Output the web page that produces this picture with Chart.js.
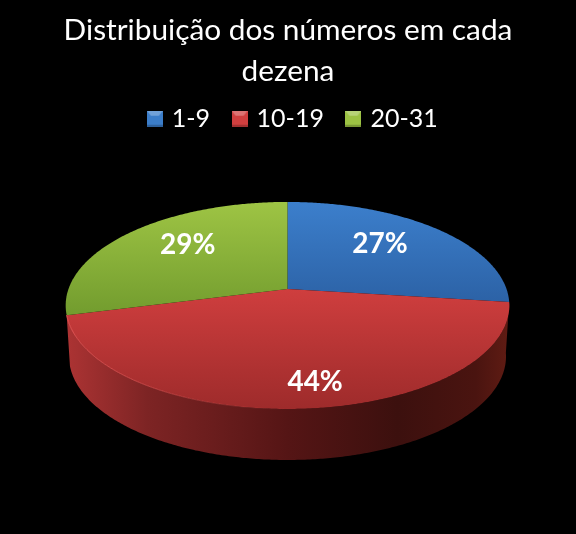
<!DOCTYPE html>
<html><head><meta charset="utf-8">
<style>html,body{margin:0;padding:0;background:#000}canvas{display:block}</style>
<script src="https://cdn.jsdelivr.net/npm/chart.js@4"></script>
</head><body><canvas id="c" width="576" height="534"></canvas>
<script>
const categories = ['1-9', '10-19', '20-31'];
const shares = [27, 44, 29];
const titleLines = ['Distribuição dos números em cada', 'dezena'];
const legendColors = ['#3b7dc9', '#d03f3f', '#9cc243'];

// face gradients per slice: [top colour, bottom colour]
const faceShades = [['#3c7fcc', '#2c62a6'], ['#cf3e3e', '#9e2b2b'], ['#9ec444', '#729c2e']];
const sideStops = [[0, '#ab3333'], [0.18, '#7d2424'], [0.5, '#551515'], [0.75, '#3c100e'], [0.93, '#4a1410'], [1, '#5e1b13']];

// perspective of the tilted disc
const view = { cx: 287.5, cy: 289, a: 219, b: 100.9, k: 0.159, depth: 51, shrink: 0.985 };
// where each percentage label sits, relative to the disc (rx, ry in view units)
const labelAt = [[0.455, 0.485], [0.11, -0.8], [-0.49, 0.47]];

function project(theta, r, down) {
  const X = r * Math.sin(theta), Y = r * Math.cos(theta), w = 1 + view.k * Y;
  const s = down ? view.shrink : 1;
  return [view.cx + s * view.a * X / w, view.cy - view.b * Y / w + (down ? view.depth : 0)];
}
function planar(x, y) {
  const w = 1 + view.k * y;
  return [view.cx + view.a * x / w, view.cy - view.b * y / w];
}
function rimPoints(t0, t1, down) {
  const n = Math.max(4, Math.ceil((t1 - t0) / 0.01)), pts = [];
  for (let i = 0; i <= n; i++) pts.push(project(t0 + (t1 - t0) * i / n, 1, down));
  return pts;
}
function trace(ctx, pts) {
  pts.forEach((p, i) => i ? ctx.lineTo(p[0], p[1]) : ctx.moveTo(p[0], p[1]));
}

const disc3d = {
  id: 'disc3d',
  afterLayout(chart) { chart.legend.left += 6; chart.legend.right += 6; chart.legend.top -= 11; chart.legend.bottom -= 11; },
  beforeDatasetsDraw(chart) {
    const ctx = chart.ctx, arcs = chart.getDatasetMeta(0).data;
    const spans = arcs.map(a => [a.startAngle + Math.PI / 2, a.endAngle + Math.PI / 2]);
    ctx.save();
    // side wall of the slices that face the viewer
    spans.forEach(([t0, t1]) => {
      const mid = (t0 + t1) / 2;
      if (mid <= Math.PI / 2 || mid >= 3 * Math.PI / 2) return;
      const top = rimPoints(t0, t1, false), bot = rimPoints(t0, t1, true).reverse();
      const g = ctx.createLinearGradient(view.cx - view.a, 0, view.cx + view.a, 0);
      sideStops.forEach(s => g.addColorStop(s[0], s[1]));
      ctx.beginPath(); trace(ctx, top.concat(bot)); ctx.closePath();
      ctx.fillStyle = g; ctx.fill();
    });
    // top faces
    spans.forEach(([t0, t1], i) => {
      const pts = [[view.cx, view.cy]].concat(rimPoints(t0, t1, false));
      const ys = pts.map(p => p[1]);
      const g = ctx.createLinearGradient(0, Math.min(...ys), 0, Math.max(...ys));
      g.addColorStop(0, faceShades[i][0]); g.addColorStop(1, faceShades[i][1]);
      ctx.beginPath(); trace(ctx, pts); ctx.closePath();
      ctx.fillStyle = g; ctx.fill();
    });
    // lit rim on the left of the front slice
    spans.forEach(([t0, t1]) => {
      const mid = (t0 + t1) / 2;
      if (mid <= Math.PI / 2 || mid >= 3 * Math.PI / 2) return;
      const g = ctx.createLinearGradient(view.cx - view.a, 0, view.cx, 0);
      g.addColorStop(0, 'rgba(240,90,90,0.9)'); g.addColorStop(1, 'rgba(240,90,90,0)');
      ctx.beginPath(); trace(ctx, rimPoints(t0, t1, false));
      ctx.strokeStyle = g; ctx.lineWidth = 1; ctx.stroke();
    });
    // percentage labels
    ctx.fillStyle = '#fff';
    ctx.font = 'bold 28px Lato';
    ctx.textAlign = 'center'; ctx.textBaseline = 'middle';
    shares.forEach((v, i) => {
      const p = planar(labelAt[i][0], labelAt[i][1]);
      ctx.fillText(v + '%', p[0], p[1]);
    });
    ctx.restore();
    return false;
  }
};

function swatch(color) {
  const s = 16, c = document.createElement('canvas');
  c.width = c.height = s;
  const x = c.getContext('2d');
  x.fillStyle = color; x.fillRect(0, 0, s, s);
  x.fillStyle = 'rgba(255,255,255,0.28)';
  x.beginPath(); x.moveTo(0, 0); x.lineTo(s, 0); x.lineTo(s - 4, 5); x.lineTo(4, 5); x.closePath(); x.fill();
  x.fillStyle = 'rgba(0,0,0,0.22)';
  x.fillRect(0, s - 2, s, 2);
  return c;
}

new Chart(document.getElementById('c'), {
  type: 'pie',
  plugins: [disc3d, { id: 'bg', beforeDraw(ch) { ch.ctx.fillStyle = '#000'; ch.ctx.fillRect(0, 0, ch.width, ch.height); } }],
  data: { labels: categories, datasets: [{ data: shares, backgroundColor: legendColors, borderWidth: 0 }] },
  options: {
    responsive: false, animation: false,
    layout: { padding: { top: 10, left: 60, right: 60, bottom: 70 } },
    plugins: {
      tooltip: { enabled: false },
      title: {
        display: true, text: titleLines, color: '#fff',
        font: { family: 'Lato', size: 29.8, weight: 'normal', lineHeight: 1.38 },
        padding: { top: 0, bottom: 0 }
      },
      legend: {
        position: 'top',
        labels: {
          color: '#fff', usePointStyle: true, pointStyleWidth: 9, boxWidth: 16, boxHeight: 16, padding: 25,
          font: { family: 'Lato', size: 25 },
          generateLabels: () => categories.map((t, i) => ({
            text: t, fontColor: '#fff', pointStyle: swatch(legendColors[i]), hidden: false, index: i, lineWidth: 0
          }))
        }
      }
    }
  }
});
</script></body></html>
